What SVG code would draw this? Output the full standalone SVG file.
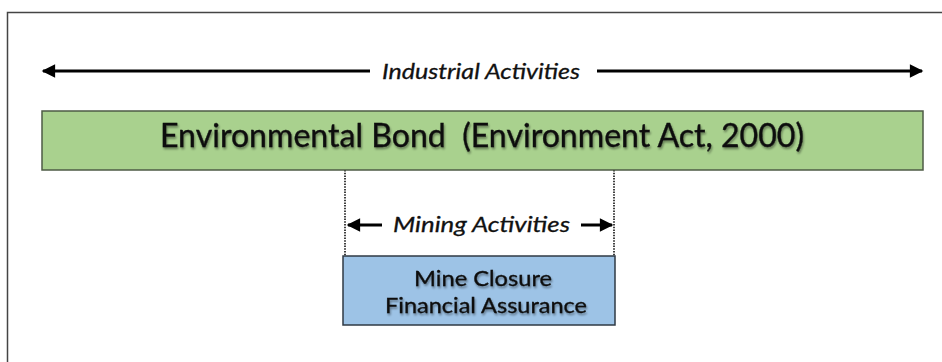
<svg xmlns="http://www.w3.org/2000/svg" width="942" height="362" viewBox="0 0 942 362">
  <style>
    .lbl { font-family: Lato, "Open Sans", "Liberation Sans", sans-serif; fill: #111; stroke: #111; stroke-width: 0.35; }
    .it { font-style: italic; stroke-width: 0.3; }
    .box-green { fill: #a9d18e; stroke: #4e5b45; stroke-width: 1.5; }
    .box-blue { fill: #9dc3e6; stroke: #2f3a44; stroke-width: 1.5; }
    .arrow { stroke: #000; stroke-width: 3; fill: none; }
    .dot { stroke: #111; stroke-width: 1.6; stroke-dasharray: 1.5 1.2; fill: none; }
    .shadow { filter: url(#ts); }
  </style>
  <defs>
    <marker id="ah" viewBox="0 0 10 10" refX="9" refY="5" markerWidth="5" markerHeight="4.5" orient="auto-start-reverse" markerUnits="strokeWidth">
      <path d="M0,0 L10,5 L0,10 Z" fill="#000"/>
    </marker>
    <filter id="ts" x="-5%" y="-20%" width="110%" height="150%">
      <feGaussianBlur in="SourceAlpha" stdDeviation="0.9"/>
      <feOffset dx="1" dy="1.5" result="b"/>
      <feComponentTransfer><feFuncA type="linear" slope="0.4"/></feComponentTransfer>
      <feMerge><feMergeNode/><feMergeNode in="SourceGraphic"/></feMerge>
    </filter>
  </defs>

  <rect width="942" height="362" fill="#fff"/>
  <!-- frame -->
  <path d="M7.5,362 V12.5 H942" fill="none" stroke="#444" stroke-width="1.5"/>

  <g id="connectors">
    <line class="arrow" x1="370" y1="71" x2="43" y2="71" marker-end="url(#ah)"/>
    <line class="arrow" x1="597" y1="71" x2="922" y2="71" marker-end="url(#ah)"/>
    <line class="dot" x1="345" y1="170" x2="345" y2="256"/>
    <line class="dot" x1="614" y1="170" x2="614" y2="256"/>
    <line class="arrow" x1="382" y1="225" x2="348" y2="225" marker-end="url(#ah)"/>
    <line class="arrow" x1="581" y1="225" x2="612" y2="225" marker-end="url(#ah)"/>
  </g>

  <g id="industrial-label">
    <text class="lbl it" x="481" y="79" font-size="22" text-anchor="middle" textLength="198" lengthAdjust="spacingAndGlyphs">Industrial Activities</text>
  </g>

  <g id="environmental-bond">
    <rect class="box-green" x="42" y="111" width="881" height="59"/>
    <text class="lbl shadow" x="482" y="147" font-size="32" text-anchor="middle" textLength="644" lengthAdjust="spacingAndGlyphs" xml:space="preserve">Environmental Bond  (Environment Act, 2000)</text>
  </g>

  <g id="mining-label">
    <text class="lbl it" x="481.5" y="232" font-size="21" text-anchor="middle" textLength="177" lengthAdjust="spacingAndGlyphs">Mining Activities</text>
  </g>

  <g id="mine-closure">
    <rect class="box-blue" x="343" y="256" width="272" height="69"/>
    <text class="lbl shadow" x="483" y="286" font-size="22" text-anchor="middle" textLength="138" lengthAdjust="spacingAndGlyphs">Mine Closure</text>
    <text class="lbl shadow" x="486" y="313" font-size="22" text-anchor="middle" textLength="202" lengthAdjust="spacingAndGlyphs">Financial Assurance</text>
  </g>
</svg>
